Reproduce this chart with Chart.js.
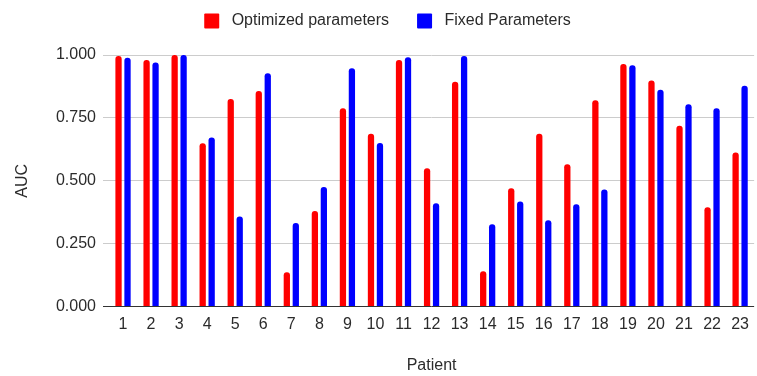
<!DOCTYPE html>
<html>
<head>
<meta charset="utf-8">
<title>AUC per patient</title>
<script src="https://cdn.jsdelivr.net/npm/chart.js@4/dist/chart.umd.min.js"></script>
<style>
  html, body { margin: 0; padding: 0; background: #fff; }
  #wrap { width: 757px; height: 376px; position: relative; }
</style>
</head>
<body>
<div id="wrap"><canvas id="chart"></canvas></div>
<script>
// Patient numbers along the x axis
const patients = ['1','2','3','4','5','6','7','8','9','10','11','12','13','14','15','16','17','18','19','20','21','22','23'];

// AUC with per-patient optimized parameters
const optimizedAUC = [0.996, 0.980, 1.000, 0.649, 0.825, 0.857, 0.136, 0.380, 0.788, 0.687, 0.980, 0.550,
                      0.894, 0.140, 0.470, 0.687, 0.566, 0.820, 0.964, 0.899, 0.719, 0.395, 0.612];

// AUC with one fixed parameter set
const fixedAUC = [0.989, 0.970, 1.000, 0.672, 0.358, 0.927, 0.332, 0.475, 0.947, 0.650, 0.991, 0.411,
                  0.996, 0.327, 0.417, 0.343, 0.407, 0.465, 0.959, 0.862, 0.804, 0.788, 0.878];

// Y axis tick values
const aucTicks = [0, 0.25, 0.5, 0.75, 1];

const FONT = '"Liberation Sans", Arial, sans-serif';
const TEXT = '#2b2b2b';
const TOP_SHIFT = 15;   // legend block starts above the canvas edge

// Fixes the legend block size and nudges the centred row
const legendLayout = {
  id: 'legendLayout',
  beforeInit(chart) {
    const origFit = chart.legend.fit;
    chart.legend.fit = function () {
      origFit.call(this);
      this.height = 55 + TOP_SHIFT;
      if (this.lineWidths) this.lineWidths = this.lineWidths.map(w => w - 18);
    };
  }
};

new Chart(document.getElementById('chart'), {
  type: 'bar',
  data: {
    labels: patients,
    datasets: [
      {
        label: 'Optimized parameters',
        data: optimizedAUC,
        backgroundColor: '#ff0000',
        borderRadius: 3,
        categoryPercentage: 0.64,
        barPercentage: 0.7
      },
      {
        label: 'Fixed Parameters',
        data: fixedAUC,
        backgroundColor: '#0000ff',
        borderRadius: 3,
        categoryPercentage: 0.64,
        barPercentage: 0.7
      }
    ]
  },
  options: {
    responsive: true,
    maintainAspectRatio: false,
    animation: false,
    layout: { padding: { left: 0, right: 0, top: -TOP_SHIFT, bottom: 0 } },
    plugins: {
      tooltip: { enabled: false },
      legend: {
        position: 'top',
        labels: {
          boxWidth: 15,
          boxHeight: 15,
          padding: 28,
          color: TEXT,
          font: { family: FONT, size: 16 },
          generateLabels(chart) {
            return Chart.defaults.plugins.legend.labels.generateLabels(chart)
              .map(item => Object.assign(item, { text: ' ' + item.text, borderRadius: 1 }));
          }
        }
      }
    },
    scales: {
      x: {
        grid: { display: false, drawTicks: false },
        border: { display: false },
        ticks: {
          color: TEXT,
          font: { family: FONT, size: 16 },
          padding: 8,
          maxRotation: 0,
          autoSkip: false
        },
        title: {
          display: true,
          text: 'Patient',
          color: TEXT,
          font: { family: FONT, size: 16 },
          padding: { top: 0, bottom: 1 }
        },
        afterFit(scale) { scale.height = 69.5; }
      },
      y: {
        min: 0,
        max: 1,
        afterBuildTicks(scale) { scale.ticks = aucTicks.map(v => ({ value: v })); },
        grid: {
          color: ctx => (ctx.tick && ctx.tick.value === 0) ? '#333' : '#ccc',
          lineWidth: 1,
          drawTicks: true,
          tickLength: 6
        },
        border: { display: false },
        ticks: {
          color: TEXT,
          font: { family: FONT, size: 16 },
          padding: 7,
          callback: v => Number(v).toFixed(3)
        },
        title: {
          display: true,
          text: 'AUC',
          color: TEXT,
          font: { family: FONT, size: 16 },
          padding: { top: 13, bottom: 0 }
        },
        afterFit(scale) { scale.width = 109; }
      }
    }
  },
  plugins: [legendLayout]
});
</script>
</body>
</html>
